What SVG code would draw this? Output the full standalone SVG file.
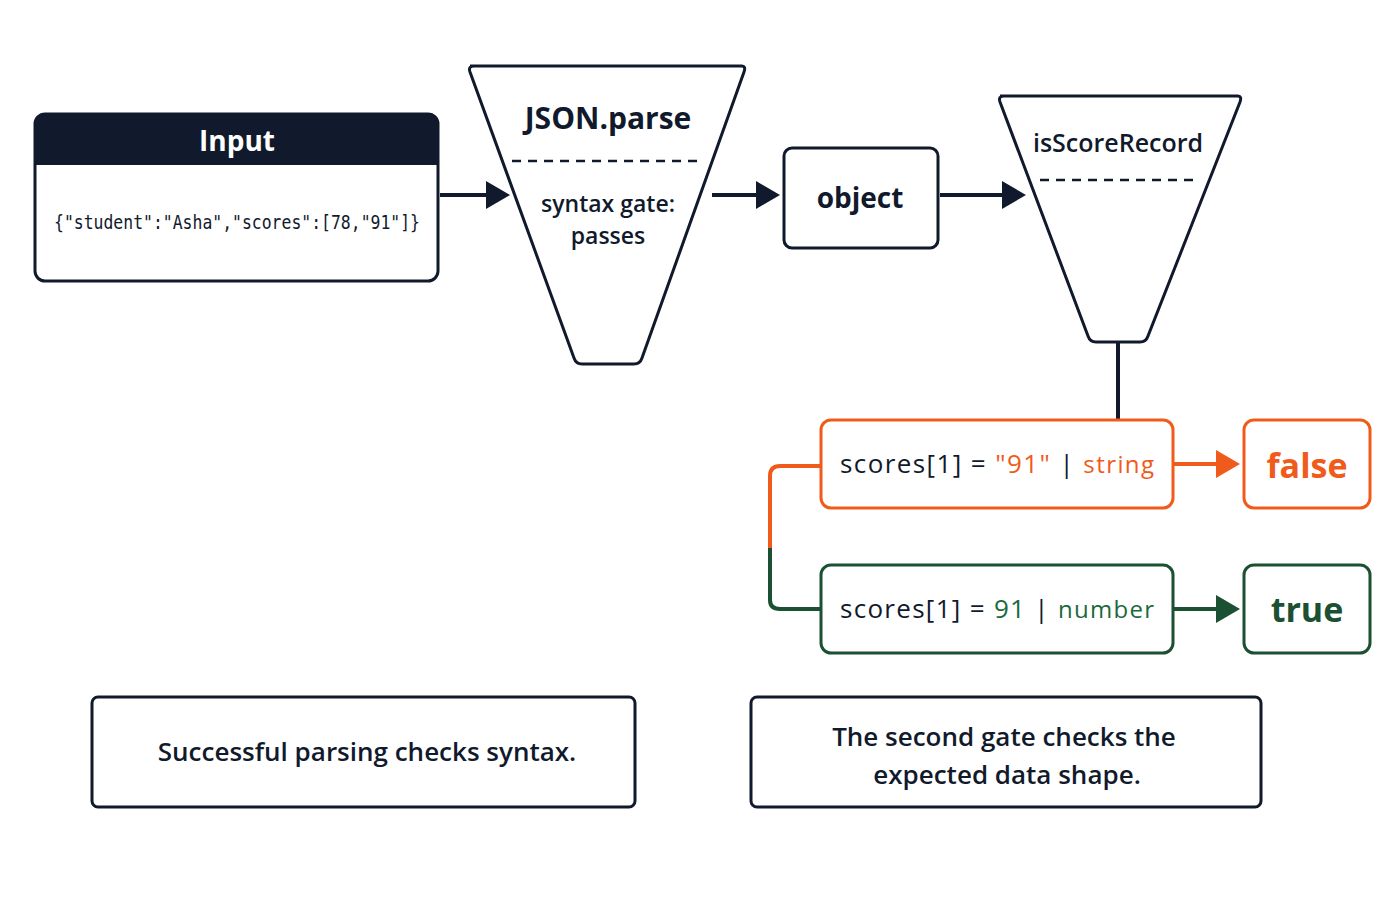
<svg xmlns="http://www.w3.org/2000/svg" width="1400" height="900" viewBox="0 0 1400 900">
<style>
.dk{fill:#fff;stroke:#111a2c;stroke-width:3}
.or{fill:#fff;stroke:#f05a1a;stroke-width:3}
.gr{fill:#fff;stroke:#1b5032;stroke-width:3}
.t{font-family:"Open Sans","Liberation Sans",sans-serif;font-weight:bold;fill:#111a2c;text-anchor:middle}
.m{font-family:"DejaVu Sans Mono","Liberation Mono",monospace;fill:#111a2c;text-anchor:middle}
.c{font-family:"Open Sans","Liberation Sans",sans-serif;fill:#111a2c;font-size:26px}
.ln{fill:none;stroke:#111a2c;stroke-width:4}
</style>
<defs>
<marker id="ad" markerWidth="7" markerHeight="7" refX="5" refY="3.5" orient="auto" markerUnits="strokeWidth"><path d="M0,0L6,3.5L0,7z" fill="#111a2c"/></marker>
<marker id="ao" markerWidth="7" markerHeight="7" refX="5" refY="3.5" orient="auto" markerUnits="strokeWidth"><path d="M0,0L6,3.5L0,7z" fill="#f05a1a"/></marker>
<marker id="ag" markerWidth="7" markerHeight="7" refX="5" refY="3.5" orient="auto" markerUnits="strokeWidth"><path d="M0,0L6,3.5L0,7z" fill="#1b5032"/></marker>
</defs>
<rect width="1400" height="900" fill="#fff"/>
<g id="connectors">
<line class="ln" x1="440" y1="195" x2="506" y2="195" marker-end="url(#ad)"/>
<line class="ln" x1="712" y1="195" x2="776" y2="195" marker-end="url(#ad)"/>
<line class="ln" x1="940" y1="195" x2="1022" y2="195" marker-end="url(#ad)"/>
<line class="ln" x1="1118" y1="342" x2="1118" y2="420"/>
<path d="M821,466H780Q770,466 770,476V548" fill="none" stroke="#f05a1a" stroke-width="4"/>
<path d="M770,548V600Q770,609 780,609H821" fill="none" stroke="#1b5032" stroke-width="4"/>
<line x1="1174" y1="464" x2="1236" y2="464" stroke="#f05a1a" stroke-width="4" marker-end="url(#ao)"/>
<line x1="1174" y1="609" x2="1236" y2="609" stroke="#1b5032" stroke-width="4" marker-end="url(#ag)"/>
</g>
<g id="input">
<rect class="dk" x="35" y="114" width="403" height="167" rx="10"/>
<path d="M35,165V124Q35,114 45,114H428Q438,114 438,124V165z" fill="#111a2c"/>
<text class="t" x="237" y="151" font-size="28" style="fill:#fff">Input</text>
<text class="m" x="237" y="229" font-size="19" textLength="366" lengthAdjust="spacingAndGlyphs">{"student":"Asha","scores":[78,"91"]}</text>
</g>
<g id="jsonparse">
<path class="dk" d="M470,66H742Q746,66 744,72L642,358Q640,364 634,364H582Q576,364 574,358L470,72Q468,66 474,66z"/>
<line x1="512" y1="161" x2="704" y2="161" stroke="#111a2c" stroke-width="2.5" stroke-dasharray="9 7"/>
<text class="t" x="608" y="129" font-size="30">JSON.parse</text>
<text class="t" x="608" y="212" font-size="23" style="font-weight:600">syntax gate:</text>
<text class="t" x="608" y="244" font-size="23" style="font-weight:600">passes</text>
</g>
<g id="object">
<rect class="dk" x="784" y="148" width="154" height="100" rx="8"/>
<text class="t" x="860" y="208" font-size="28">object</text>
</g>
<g id="isScoreRecord">
<path class="dk" d="M1000,96H1238Q1242,96 1240,102L1148,336Q1146,342 1140,342H1096Q1090,342 1088,336L1000,102Q998,96 1004,96z"/>
<line x1="1040" y1="180" x2="1200" y2="180" stroke="#111a2c" stroke-width="2.5" stroke-dasharray="9 7"/>
<text class="t" x="1118" y="152" font-size="25" style="font-weight:600">isScoreRecord</text>
</g>
<g id="stringcase">
<rect class="or" x="821" y="420" width="352" height="88" rx="10"/>
<text class="c" x="840" y="473" textLength="314" lengthAdjust="spacing">scores[1] = <tspan fill="#f05a1a">"91"</tspan> | <tspan fill="#f05a1a" font-size="24">string</tspan></text>
</g>
<g id="numbercase">
<rect class="gr" x="821" y="565" width="352" height="88" rx="10"/>
<text class="c" x="840" y="618" textLength="314" lengthAdjust="spacing">scores[1] = <tspan fill="#1b6a3e">91</tspan> | <tspan fill="#1b6a3e" font-size="24">number</tspan></text>
</g>
<g id="false">
<rect class="or" x="1244" y="420" width="126" height="88" rx="10"/>
<text class="t" x="1307" y="478" font-size="34" style="fill:#f05a1a">false</text>
</g>
<g id="true">
<rect class="gr" x="1244" y="565" width="126" height="88" rx="10"/>
<text class="t" x="1307" y="622" font-size="34" style="fill:#1b5032">true</text>
</g>
<g id="note1">
<rect class="dk" x="92" y="697" width="543" height="110" rx="6"/>
<text class="t" x="367" y="761" font-size="26" style="font-weight:600">Successful parsing checks syntax.</text>
</g>
<g id="note2">
<rect class="dk" x="751" y="697" width="510" height="110" rx="6"/>
<text class="t" x="1004" y="746" font-size="26" style="font-weight:600">The second gate checks the</text>
<text class="t" x="1007" y="784" font-size="26" style="font-weight:600">expected data shape.</text>
</g>
</svg>
